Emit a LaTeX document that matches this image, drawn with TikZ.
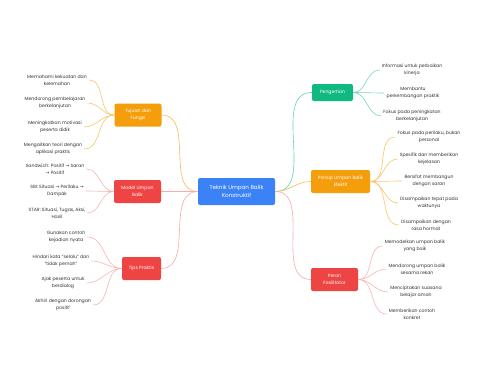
\documentclass[tikz,border=0pt]{standalone}
\usepackage{fontspec}
\setmainfont{Poppins}
\newfontfamily\arrowfont{DejaVu Sans}
\newcommand{\myarr}{{\arrowfont →}}
\definecolor{cblue}{HTML}{3B82F6}
\definecolor{corange}{HTML}{F59E0B}
\definecolor{cred}{HTML}{EF4444}
\definecolor{cgreen}{HTML}{10B981}
\definecolor{ctext}{HTML}{333333}
\tikzset{
  box/.style={rounded corners=2pt, text=white, align=center, inner sep=1pt, font=\fontsize{4.6}{7}\selectfont},
  mainbox/.style={box, fill=cblue, minimum width=77pt, minimum height=27pt, font=\fontsize{5.6}{8.5}\selectfont},
  leaf/.style={text=ctext, align=center, inner sep=2pt, font=\fontsize{4.6}{7.2}\selectfont},
  link/.style={line width=0.6pt, out=#1, in=180+#1},
}
\begin{document}
\begin{tikzpicture}[x=1pt,y=-1pt]
\useasboundingbox (0,0) rectangle (480,384);
\fill[white] (0,0) rectangle (480,384);
% main nodes
\node[mainbox] (c) at (236.5,191.5) {Teknik Umpan Balik\\Konstruktif};
\node[box, fill=corange, minimum width=47pt, minimum height=23pt] (tuj) at (138,115) {Tujuan dan\\Fungsi};
\node[box, fill=cred, minimum width=47pt, minimum height=23pt] (mod) at (137.5,191.5) {Model Umpan\\Balik};
\node[box, fill=cred, minimum width=39pt, minimum height=23pt] (tips) at (141.5,268.5) {Tips Praktis};
\node[box, fill=cgreen, minimum width=41pt, minimum height=17pt] (peng) at (332.5,92.5) {Pengertian};
\node[box, fill=corange, minimum width=59pt, minimum height=23pt] (prin) at (340.5,181.5) {Prinsip Umpan Balik\\Efektif};
\node[box, fill=cred, minimum width=47pt, minimum height=23pt] (peran) at (334.5,279.5) {Peran\\Fasilitator};
% leaves left
\node[leaf] (l1) at (57,80) {Memahami kekuatan dan\\kelemahan};
\node[leaf] (l2) at (55,103) {Mendorong pembelajaran\\berkelanjutan};
\node[leaf] (l3) at (55,127) {Meningkatkan motivasi\\peserta didik};
\node[leaf] (l4) at (53,149) {Mengaitkan teori dengan\\aplikasi praktis};
\node[leaf] (m1) at (55,169) {Sandwich: Positif \myarr{} Saran\\\myarr{} Positif};
\node[leaf] (m2) at (57,191) {SBI: Situasi \myarr{} Perilaku \myarr\\Dampak};
\node[leaf] (m3) at (57,213) {STAR: Situasi, Tugas, Aksi,\\Hasil};
\node[leaf] (t1) at (66,237) {Gunakan contoh\\kejadian nyata};
\node[leaf] (t2) at (61,261) {Hindari kata "selalu" dan\\"tidak pernah"};
\node[leaf] (t3) at (63,283) {Ajak peserta untuk\\berdialog};
\node[leaf] (t4) at (63,305) {Akhiri dengan dorongan\\positif};
% leaves right
\node[leaf] (p1) at (412,70) {Informasi untuk perbaikan\\kinerja};
\node[leaf] (p2) at (413,93) {Membantu\\perkembangan praktik};
\node[leaf] (p3) at (412,116) {Fokus pada peningkatan\\berkelanjutan};
\node[leaf] (r1) at (429,137) {Fokus pada perilaku, bukan\\personal};
\node[leaf] (r2) at (429,159) {Spesifik dan memberikan\\kejelasan};
\node[leaf] (r3) at (429,181) {Bersifat membangun\\dengan saran};
\node[leaf] (r4) at (429,203) {Disampaikan tepat pada\\waktunya};
\node[leaf] (r5) at (426,225) {Disampaikan dengan\\rasa hormat};
\node[leaf] (f1) at (415,246) {Memodelkan umpan balik\\yang baik};
\node[leaf] (f2) at (417,269) {Mendorong umpan balik\\sesama rekan};
\node[leaf] (f3) at (416,292) {Menciptakan suasana\\belajar aman};
\node[leaf] (f4) at (412,314) {Memberikan contoh\\konkret};
% center connectors
\draw[link=180, corange!70] (c.west) to (tuj.east);
\draw[link=180, cred!45] (c.west) to (mod.east);
\draw[link=180, cred!45] (c.west) to (tips.east);
\draw[link=0, cgreen!65] (c.east) to (peng.west);
\draw[link=0, corange!70] (c.east) to (prin.west);
\draw[link=0, cred!45] (c.east) to (peran.west);
% leaf connectors
\foreach \n in {l1,l2,l3,l4} \draw[link=180, corange!60] (tuj.west) to (\n.east);
\foreach \n in {m1,m2,m3} \draw[link=180, cred!40] (mod.west) to (\n.east);
\foreach \n in {t1,t2,t3,t4} \draw[link=180, cred!40] (tips.west) to (\n.east);
\foreach \n in {p1,p2,p3} \draw[link=0, cgreen!55] (peng.east) to (\n.west);
\foreach \n in {r1,r2,r3,r4,r5} \draw[link=0, corange!60] (prin.east) to (\n.west);
\foreach \n in {f1,f2,f3,f4} \draw[link=0, cred!40] (peran.east) to (\n.west);
\end{tikzpicture}
\end{document}
